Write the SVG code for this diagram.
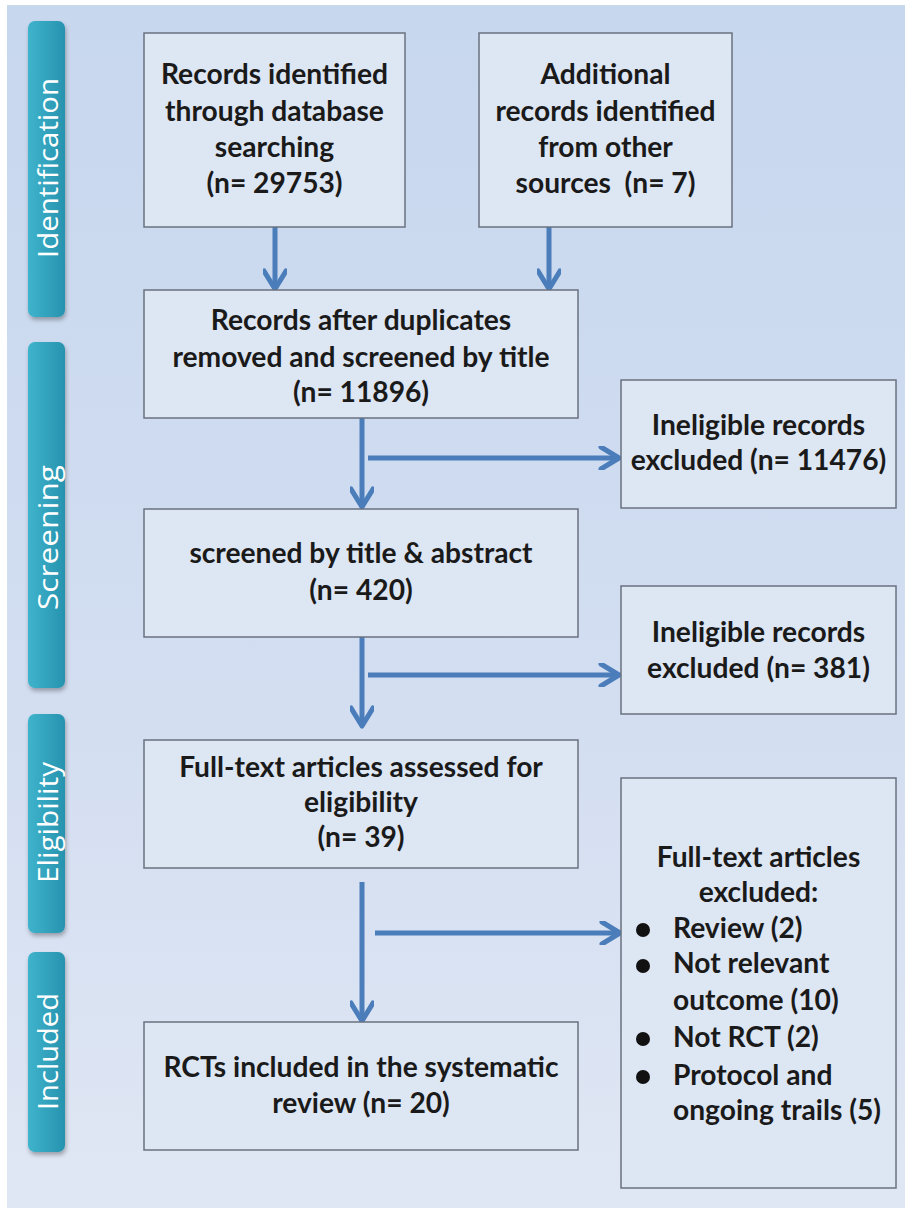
<svg xmlns="http://www.w3.org/2000/svg" width="905" height="1214" viewBox="0 0 905 1214">
<defs>
<linearGradient id="bg" x1="0" y1="0" x2="0" y2="1">
<stop offset="0" stop-color="#c7d7ee"/>
<stop offset="0.6" stop-color="#d3def1"/>
<stop offset="1" stop-color="#e0e7f4"/>
</linearGradient>
<linearGradient id="bar" x1="0" y1="0" x2="1" y2="0">
<stop offset="0" stop-color="#3fb3cc"/>
<stop offset="1" stop-color="#2793af"/>
</linearGradient>
<filter id="sh" x="-30%" y="-10%" width="160%" height="120%">
<feDropShadow dx="1" dy="3" stdDeviation="2" flood-color="#000" flood-opacity="0.3"/>
</filter>
<marker id="ah" viewBox="0 0 24 24" markerWidth="24" markerHeight="24" refX="21" refY="12" orient="auto" markerUnits="userSpaceOnUse">
<path d="M3,1 L21,12 L3,23" fill="none" stroke="#4a7dba" stroke-width="5" stroke-linecap="round" stroke-linejoin="round"/>
</marker>
</defs>
<style>
.box{fill:#dde6f3;stroke:#6a7280;stroke-width:1.5}
.bar{fill:url(#bar);filter:url(#sh)}
.lbl{font-family:"Open Sans","DejaVu Sans",sans-serif;font-size:28px;fill:#ffffff}
.t{font-family:Lato,"Liberation Sans",sans-serif;font-weight:bold;font-size:28.2px;fill:#1a1a1a;text-anchor:middle}
.tl{font-family:Lato,"Liberation Sans",sans-serif;font-weight:bold;font-size:28.2px;fill:#1a1a1a}
.c{fill:none;stroke:#4a7dba;stroke-width:5;marker-end:url(#ah)}
</style>
<rect x="7" y="5" width="898" height="1203" fill="url(#bg)"/>

<g id="stage-identification">
<rect class="bar" x="28" y="21" width="37" height="296" rx="7"/>
<text class="lbl" transform="translate(58,258) rotate(-90)" textLength="180" lengthAdjust="spacingAndGlyphs">Identification</text>
</g>
<g id="stage-screening">
<rect class="bar" x="28" y="342" width="37" height="346" rx="7"/>
<text class="lbl" transform="translate(58,610) rotate(-90)" textLength="145" lengthAdjust="spacingAndGlyphs">Screening</text>
</g>
<g id="stage-eligibility">
<rect class="bar" x="28" y="714" width="37" height="219" rx="7"/>
<text class="lbl" transform="translate(58,883) rotate(-90)" textLength="121" lengthAdjust="spacingAndGlyphs">Eligibility</text>
</g>
<g id="stage-included">
<rect class="bar" x="28" y="952" width="37" height="200" rx="7"/>
<text class="lbl" transform="translate(58,1110) rotate(-90)" textLength="117" lengthAdjust="spacingAndGlyphs">Included</text>
</g>

<g id="connectors">
<line class="c" x1="275" y1="227" x2="275" y2="289"/>
<line class="c" x1="549" y1="227" x2="549" y2="289"/>
<line class="c" x1="362" y1="418" x2="362" y2="507"/>
<line class="c" x1="368" y1="458" x2="619" y2="458"/>
<line class="c" x1="362" y1="637" x2="362" y2="726"/>
<line class="c" x1="368" y1="675" x2="619" y2="675"/>
<line class="c" x1="362" y1="882" x2="362" y2="1021"/>
<line class="c" x1="375" y1="933" x2="620" y2="933"/>
</g>

<g id="n1">
<rect class="box" x="144" y="33" width="261" height="194"/>
<text class="t" x="274.5" y="84">Records identified</text>
<text class="t" x="274.5" y="120.5">through database</text>
<text class="t" x="274.5" y="157">searching</text>
<text class="t" x="274.5" y="193">(n= 29753)</text>
</g>
<g id="n2">
<rect class="box" x="479" y="33" width="253" height="194"/>
<text class="t" x="605.5" y="84">Additional</text>
<text class="t" x="605.5" y="120.5">records identified</text>
<text class="t" x="605.5" y="157">from other</text>
<text class="t" x="605.5" y="193" xml:space="preserve">sources  (n= 7)</text>
</g>
<g id="n3">
<rect class="box" x="144" y="290" width="434" height="128"/>
<text class="t" x="361" y="330">Records after duplicates</text>
<text class="t" x="361" y="367">removed and screened by title</text>
<text class="t" x="361" y="402">(n= 11896)</text>
</g>
<g id="n4">
<rect class="box" x="621" y="380" width="275" height="128"/>
<text class="t" x="758.5" y="435">Ineligible records</text>
<text class="t" x="758.5" y="470">excluded (n= 11476)</text>
</g>
<g id="n5">
<rect class="box" x="144" y="509" width="434" height="128"/>
<text class="t" x="361" y="563">screened by title &amp; abstract</text>
<text class="t" x="361" y="600">(n= 420)</text>
</g>
<g id="n6">
<rect class="box" x="621" y="586" width="275" height="128"/>
<text class="t" x="758.5" y="642">Ineligible records</text>
<text class="t" x="758.5" y="678">excluded (n= 381)</text>
</g>
<g id="n7">
<rect class="box" x="144" y="740" width="434" height="128"/>
<text class="t" x="361" y="777">Full-text articles assessed for</text>
<text class="t" x="361" y="812">eligibility</text>
<text class="t" x="361" y="847">(n= 39)</text>
</g>
<g id="n8">
<rect class="box" x="621" y="778" width="275" height="410"/>
<text class="t" x="758.5" y="867">Full-text articles</text>
<text class="t" x="758.5" y="902">excluded:</text>
<circle cx="643" cy="930" r="7" fill="#111"/>
<text class="tl" x="673" y="938">Review (2)</text>
<circle cx="643" cy="966" r="7" fill="#111"/>
<text class="tl" x="673" y="973">Not relevant</text>
<text class="tl" x="673" y="1010">outcome (10)</text>
<circle cx="643" cy="1039" r="7" fill="#111"/>
<text class="tl" x="673" y="1047">Not RCT (2)</text>
<circle cx="643" cy="1077" r="7" fill="#111"/>
<text class="tl" x="673" y="1085">Protocol and</text>
<text class="tl" x="673" y="1120">ongoing trails (5)</text>
</g>
<g id="n9">
<rect class="box" x="144" y="1022" width="434" height="128"/>
<text class="t" x="361" y="1077">RCTs included in the systematic</text>
<text class="t" x="361" y="1113">review (n= 20)</text>
</g>
</svg>
